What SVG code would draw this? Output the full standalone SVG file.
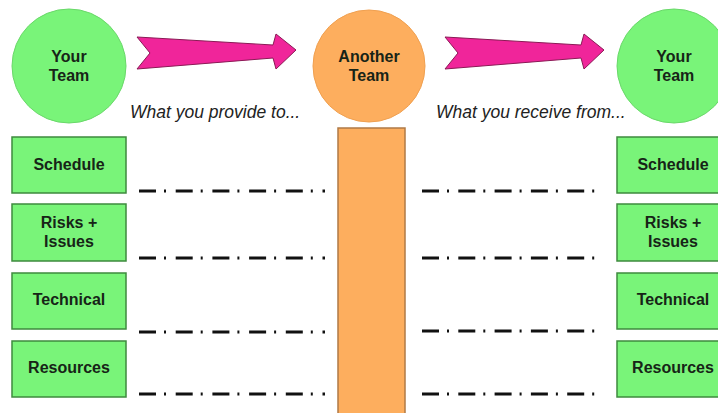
<svg xmlns="http://www.w3.org/2000/svg" width="718" height="413" viewBox="0 0 718 413">
  <style>
    .bg { fill: #ffffff; }
    .team { fill: #79f479; stroke: #6ad86a; stroke-width: 1; }
    .other { fill: #fdae5e; stroke: #f0a050; stroke-width: 1; }
    .bar { fill: #fdae5e; stroke: #b07a45; stroke-width: 1.5; }
    .box { fill: #79f479; stroke: #3e8a3e; stroke-width: 1.5; }
    .arrow { fill: #f0259a; stroke: #8a1a55; stroke-width: 1; }
    .lbl { font-family: "Liberation Sans", Arial, sans-serif; font-weight: bold; font-size: 16px; fill: #172417; text-anchor: middle; }
    .note { font-family: "Liberation Sans", Arial, sans-serif; font-style: italic; font-size: 17.5px; fill: #222222; }
    .link { stroke: #111111; stroke-width: 3; fill: none; stroke-dasharray: 17 8 2 9.7; }
    .link2 { stroke: #111111; stroke-width: 3; fill: none; stroke-dasharray: 17 8 2 9.3; }
  </style>
  <rect class="bg" x="0" y="0" width="718" height="413"/>

  <!-- central team column -->
  <g id="another-team-bar">
    <rect class="bar" x="338" y="128" width="67" height="300"/>
  </g>

  <g id="your-team-left">
    <circle class="team" cx="69" cy="66" r="57"/>
    <text class="lbl" x="69" y="62">Your</text>
    <text class="lbl" x="69" y="81">Team</text>
  </g>

  <g id="another-team">
    <circle class="other" cx="369" cy="66" r="56"/>
    <text class="lbl" x="369" y="62">Another</text>
    <text class="lbl" x="369" y="81">Team</text>
  </g>

  <g id="your-team-right">
    <circle class="team" cx="674" cy="66" r="57"/>
    <text class="lbl" x="674" y="62">Your</text>
    <text class="lbl" x="674" y="81">Team</text>
  </g>

  <!-- flow arrows -->
  <g id="arrow-provide">
    <path class="arrow" d="M137,37 L273,45 L276,34 L296,50 L276,69 L273,58 L137,69 L150,53 Z"/>
  </g>
  <g id="arrow-receive">
    <path class="arrow" d="M445,37 L581,45 L584,34 L604,50 L584,69 L581,58 L445,69 L458,53 Z"/>
  </g>

  <text class="note" x="130" y="118">What you provide to...</text>
  <text class="note" x="436" y="118">What you receive from...</text>

  <!-- left topic boxes -->
  <g id="left-schedule">
    <rect class="box" x="12" y="137" width="114" height="56"/>
    <text class="lbl" x="69" y="170">Schedule</text>
  </g>
  <g id="left-risks">
    <rect class="box" x="12" y="204" width="114" height="57"/>
    <text class="lbl" x="69" y="228">Risks +</text>
    <text class="lbl" x="69" y="247">Issues</text>
  </g>
  <g id="left-technical">
    <rect class="box" x="12" y="273" width="114" height="56"/>
    <text class="lbl" x="69" y="305">Technical</text>
  </g>
  <g id="left-resources">
    <rect class="box" x="12" y="341" width="114" height="56"/>
    <text class="lbl" x="69" y="373">Resources</text>
  </g>

  <!-- right topic boxes -->
  <g id="right-schedule">
    <rect class="box" x="617" y="137" width="114" height="56"/>
    <text class="lbl" x="673" y="170">Schedule</text>
  </g>
  <g id="right-risks">
    <rect class="box" x="617" y="204" width="114" height="57"/>
    <text class="lbl" x="673" y="228">Risks +</text>
    <text class="lbl" x="673" y="247">Issues</text>
  </g>
  <g id="right-technical">
    <rect class="box" x="617" y="273" width="114" height="56"/>
    <text class="lbl" x="673" y="305">Technical</text>
  </g>
  <g id="right-resources">
    <rect class="box" x="617" y="341" width="114" height="56"/>
    <text class="lbl" x="673" y="373">Resources</text>
  </g>

  <!-- dash-dot exchange lines -->
  <g id="connectors">
    <line class="link" x1="139" y1="191" x2="325" y2="191"/>
    <line class="link" x1="139" y1="258" x2="325" y2="258"/>
    <line class="link" x1="139" y1="332" x2="325" y2="332"/>
    <line class="link" x1="139" y1="394" x2="325" y2="394"/>
    <line class="link2" x1="422" y1="191" x2="595" y2="191"/>
    <line class="link2" x1="422" y1="258" x2="595" y2="258"/>
    <line class="link2" x1="422" y1="331" x2="595" y2="331"/>
    <line class="link2" x1="422" y1="394" x2="595" y2="394"/>
  </g>
</svg>
